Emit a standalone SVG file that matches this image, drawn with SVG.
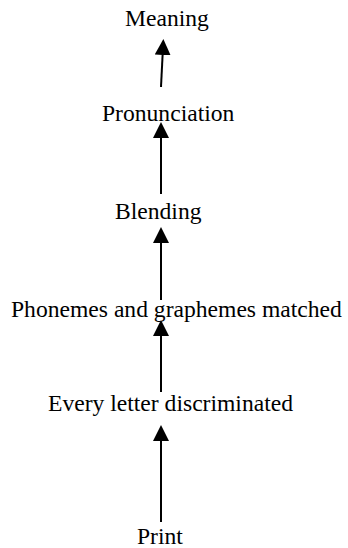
<svg xmlns="http://www.w3.org/2000/svg" width="348" height="548" viewBox="0 0 348 548">
<style>
text { font-family: "Liberation Serif", "Times New Roman", serif; font-size: 23.6px; fill: #000; }
.c { stroke: #000; stroke-width: 2; fill: none; }
</style>
<defs>
<marker id="ah" markerUnits="userSpaceOnUse" viewBox="0 0 16 16" refX="0" refY="8" markerWidth="16" markerHeight="16" orient="auto">
<path d="M0,0 L16,8 L0,16 Z" fill="#000"/>
</marker>
</defs>
<rect width="348" height="548" fill="#fff"/>
<g id="connectors">
<line class="c" x1="161" y1="87" x2="162.6" y2="55" marker-end="url(#ah)"/>
<line class="c" x1="161" y1="194" x2="161" y2="138" marker-end="url(#ah)"/>
<line class="c" x1="161" y1="300" x2="161" y2="243" marker-end="url(#ah)"/>
<line class="c" x1="161" y1="392" x2="161" y2="336" marker-end="url(#ah)"/>
<line class="c" x1="161" y1="522" x2="161" y2="441" marker-end="url(#ah)"/>
</g>
<g id="meaning"><text x="125" y="26">Meaning</text></g>
<g id="pronunciation"><text x="102" y="121">Pronunciation</text></g>
<g id="blending"><text x="115" y="219">Blending</text></g>
<g id="phonemes"><text x="11" y="317">Phonemes and graphemes matched</text></g>
<g id="every-letter"><text x="48" y="411">Every letter discriminated</text></g>
<g id="print"><text x="137" y="544">Print</text></g>
</svg>
